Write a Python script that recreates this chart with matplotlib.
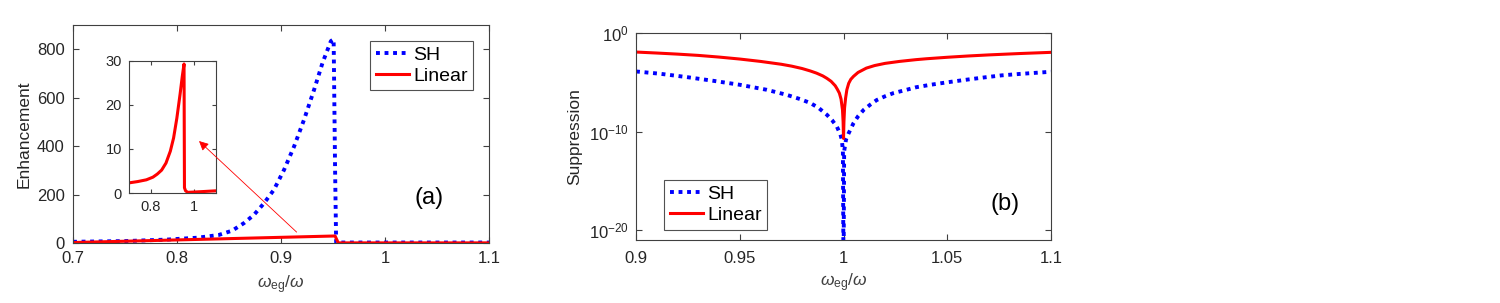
import numpy as np
import matplotlib
matplotlib.use('Agg')
import matplotlib.pyplot as plt

plt.rcParams['font.family'] = ['Liberation Sans', 'DejaVu Sans']
plt.rcParams['mathtext.fontset'] = 'custom'
plt.rcParams['mathtext.rm'] = 'Liberation Sans'
plt.rcParams['mathtext.it'] = 'Liberation Sans:italic'

# (a) enhancement, main axes
sh_a_x = [0.70, 0.75, 0.79, 0.82, 0.84, 0.853, 0.8643, 0.8739, 0.8836, 0.8932, 0.9029,
          0.9126, 0.9222, 0.9319, 0.940, 0.948, 0.9506, 0.952, 0.953, 1.10]
sh_a_y = [5, 8, 14, 22, 33, 51, 82, 116, 164, 220, 302,
          399, 510, 634, 745, 834, 841, 300, 2, 2]
lin_a_x = [0.70, 0.952, 0.955, 1.10]
lin_a_y = [2, 29, 0.5, 0.5]

# (a) inset, linear only
lin_in_x = [0.70, 0.74, 0.78, 0.81, 0.83, 0.85, 0.87, 0.89, 0.905, 0.92, 0.935, 0.945, 0.953,
            0.955, 0.96, 0.97, 0.99, 1.03, 1.10]
lin_in_y = [2.3, 2.6, 3.0, 3.6, 4.3, 5.2, 6.8, 9.5, 12.5, 17, 22.5, 26.5, 29.3,
            1.2, 0.5, 0.15, 0.2, 0.3, 0.5]

# (b) suppression, exponents of ten
lin_b_x = [0.90, 0.91, 0.92, 0.93, 0.94, 0.95, 0.96, 0.97, 0.975, 0.98, 0.984, 0.987,
           0.990, 0.992, 0.994, 0.996, 0.997, 0.998, 0.9988, 0.9995, 0.9998, 1.0,
           1.0002, 1.0005, 1.001, 1.0016, 1.0025, 1.0035, 1.0048, 1.007, 1.011, 1.015,
           1.02, 1.027, 1.035, 1.04, 1.05, 1.06, 1.07, 1.085, 1.10]
lin_b_exp = [-1.93, -2.03, -2.14, -2.27, -2.44, -2.64, -2.88, -3.17, -3.36, -3.6, -3.85, -4.07,
             -4.35, -4.6, -4.9, -5.35, -5.7, -6.1, -6.7, -7.8, -9.0, -10.7,
             -9.0, -7.6, -6.6, -5.76, -5.1, -4.7, -4.4, -4.0, -3.56, -3.3,
             -3.08, -2.88, -2.7, -2.61, -2.46, -2.33, -2.22, -2.08, -1.96]
sh_b_x = [0.90, 0.9115, 0.9244, 0.9373, 0.95, 0.963, 0.9726, 0.979, 0.984, 0.988, 0.992,
          0.9945, 0.9968, 0.9985, 0.9992, 0.9997, 1.0,
          1.0003, 1.0012, 1.0024, 1.0048, 1.007, 1.0097, 1.013, 1.016, 1.02, 1.024, 1.03,
          1.035, 1.042, 1.05, 1.058, 1.068, 1.076, 1.085, 1.10]
sh_b_exp = [-3.9, -4.13, -4.47, -4.85, -5.25, -5.76, -6.27, -6.7, -7.1, -7.6, -8.3,
            -8.85, -9.5, -10.3, -10.85, -12, -25,
            -12, -10.8, -10.2, -9.15, -8.45, -7.8, -7.25, -6.8, -6.42, -6.1, -5.78,
            -5.5, -5.25, -5.0, -4.77, -4.5, -4.3, -4.15, -3.93]

BLUE = (0, 0, 1)
RED = (1, 0, 0)
AX_C = '#404040'
TXT_C = '#262626'
xlab = r'$\omega_{\mathrm{eg}}/\omega$'
dots = (1.0, 1.2)


def style(ax, fs=12, pad=6):
    for s in ax.spines.values():
        s.set_color(AX_C)
        s.set_linewidth(0.8)
    ax.tick_params(direction='in', top=True, right=True, colors=AX_C,
                   labelcolor=TXT_C, labelsize=fs, length=4, width=0.8, pad=pad)


fig = plt.figure(figsize=(15, 3.03), dpi=100)

# panel (a)
ax = fig.add_axes([0.0487, 0.198, 0.2773, 0.7195])
ax.plot(sh_a_x, sh_a_y, color=BLUE, lw=2.8, dashes=dots, dash_capstyle='butt', label='SH')
ax.plot(lin_a_x, lin_a_y, color=RED, lw=2.2, label='Linear')
ax.set_xlim(0.7, 1.1)
ax.set_ylim(0, 900)
ax.set_xticks([0.7, 0.8, 0.9, 1.0, 1.1])
ax.set_xticklabels(['0.7', '0.8', '0.9', '1', '1.1'])
ax.set_yticks([0, 200, 400, 600, 800])
style(ax)
ax.set_ylabel('Enhancement', fontsize=12.5, color=TXT_C, labelpad=4)
ax.set_xlabel(xlab, fontsize=12.5, color='#404040', labelpad=5)
leg = ax.legend(loc='upper right', fontsize=14, frameon=True, fancybox=False,
                edgecolor='#262626', handlelength=1.7, handletextpad=0.2,
                borderpad=0.3, labelspacing=0.15, borderaxespad=0.8)
leg.get_frame().set_linewidth(0.8)
ax.text(0.855, 0.205, '(a)', transform=ax.transAxes, fontsize=17, ha='center', va='center')

# inset
axi = fig.add_axes([0.086, 0.363, 0.058, 0.436])
axi.plot(lin_in_x, lin_in_y, color=RED, lw=2.2)
axi.set_xlim(0.7, 1.1)
axi.set_ylim(0, 30)
axi.set_xticks([0.8, 1.0])
axi.set_xticklabels(['0.8', '1'])
axi.set_yticks([0, 10, 20, 30])
style(axi, fs=10.5, pad=5)
axi.tick_params(length=3)
axi.annotate('', xy=(1.022, 11.8), xycoords=axi.transData,
             xytext=(0.915, 45), textcoords=ax.transData,
             arrowprops=dict(arrowstyle='-|>', color=RED, lw=0.6, mutation_scale=14,
                             shrinkA=0, shrinkB=0),
             annotation_clip=False)

# panel (b)
bx = fig.add_axes([0.424, 0.208, 0.2767, 0.683])
bx.semilogy(sh_b_x, 10.0 ** np.array(sh_b_exp), color=BLUE, lw=2.8, dashes=dots,
            dash_capstyle='butt', label='SH')
bx.semilogy(lin_b_x, 10.0 ** np.array(lin_b_exp), color=RED, lw=2.2, label='Linear')
bx.set_xlim(0.9, 1.1)
bx.set_ylim(1e-21, 1e0)
bx.set_xticks([0.9, 0.95, 1.0, 1.05, 1.1])
bx.set_xticklabels(['0.9', '0.95', '1', '1.05', '1.1'])
bx.set_yticks([1e-20, 1e-10, 1e0])
bx.yaxis.set_minor_locator(matplotlib.ticker.NullLocator())
style(bx, pad=5)
bx.tick_params(axis='x', pad=8)
bx.set_ylabel('Suppression', fontsize=12.5, color=TXT_C, labelpad=5)
bx.set_xlabel(xlab, fontsize=12.5, color='#404040', labelpad=4)
leg2 = bx.legend(loc='lower left', bbox_to_anchor=(0.068, 0.05), fontsize=14, frameon=True,
                 fancybox=False, edgecolor='#262626', handlelength=1.7, handletextpad=0.2,
                 borderpad=0.3, labelspacing=0.15, borderaxespad=0)
leg2.get_frame().set_linewidth(0.8)
bx.text(0.89, 0.175, '(b)', transform=bx.transAxes, fontsize=17, ha='center', va='center')

fig.savefig('out.png', dpi=100, facecolor='white')
